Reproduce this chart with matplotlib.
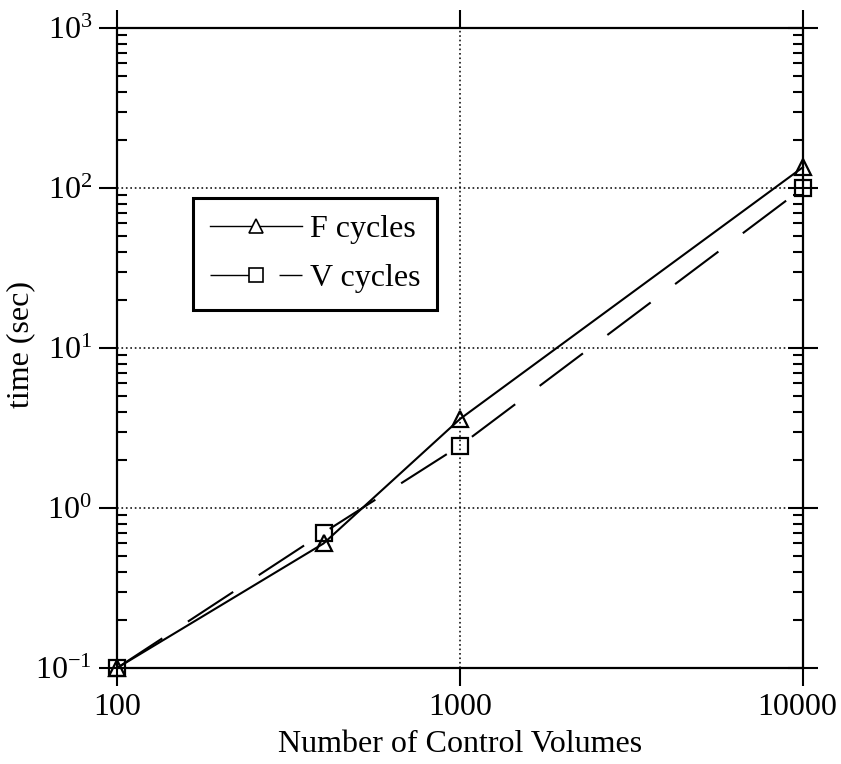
import matplotlib
matplotlib.use("Agg")
import matplotlib.pyplot as plt
from matplotlib.lines import Line2D
from matplotlib.transforms import ScaledTranslation
from matplotlib.ticker import LogLocator, NullFormatter, FixedLocator, FixedFormatter

plt.rcParams['font.family'] = ['Liberation Serif', 'DejaVu Serif']
plt.rcParams['mathtext.fontset'] = 'custom'
plt.rcParams['mathtext.rm'] = 'Liberation Serif'
plt.rcParams['mathtext.it'] = 'Liberation Serif:italic'
plt.rcParams['lines.scale_dashes'] = False

# Data
control_volumes = [100, 400, 1000, 10000]
f_cycles_time = [0.1, 0.6, 3.6, 135]
v_cycles_time = [0.1, 0.7, 2.45, 100]
x_ticks = [100, 1000, 10000]
x_tick_labels = ["100", "1000", "10000"]
y_ticks = [0.1, 1, 10, 100, 1000]
y_tick_labels = [r"$10^{-1}$", r"$10^{0}$", r"$10^{1}$", r"$10^{2}$", r"$10^{3}$"]

FS = 23
fig = plt.figure(figsize=(8.41, 7.64), dpi=100)
ax = fig.add_axes([117/841, 1-668/764, (803-117)/841, (668-28)/764])

ax.set_xscale('log')
ax.set_yscale('log')
ax.set_xlim(100, 10000)
ax.set_ylim(0.1, 1000)

ax.plot(control_volumes, f_cycles_time, color='black', lw=1.5, linestyle='-',
        marker='^', ms=11, mfc='none', mec='black', mew=1.6, zorder=3, clip_on=False)
ax.plot(control_volumes, v_cycles_time, color='black', lw=1.5, linestyle=(0, (39, 22)),
        marker='s', ms=11.5, mfc='none', mec='black', mew=1.6, zorder=3, clip_on=False)

# grid
for xv in [1000]:
    ax.axvline(xv, color='black', lw=1.1, linestyle=(0, (1.2, 2)), zorder=1)
for yv in [1, 10, 100]:
    ax.axhline(yv, color='black', lw=1.1, linestyle=(0, (1.2, 2)), zorder=1)

# right major ticks inout via twin axis
ax2 = ax.twinx()
ax2.set_yscale('log')
ax2.set_ylim(0.1, 1000)
ax2.yaxis.set_major_locator(FixedLocator(y_ticks))
ax2.yaxis.set_minor_locator(FixedLocator([]))
ax2.tick_params(axis='y', which='major', direction='inout', length=22, width=1.5, labelright=False)
for s in ax2.spines.values():
    s.set_visible(False)

# ticks
ax.xaxis.set_major_locator(FixedLocator(x_ticks))
ax.xaxis.set_major_formatter(FixedFormatter(x_tick_labels))
ax.xaxis.set_minor_locator(FixedLocator([]))
ax.yaxis.set_major_locator(FixedLocator(y_ticks))
ax.yaxis.set_major_formatter(FixedFormatter(y_tick_labels))
ax.yaxis.set_minor_locator(LogLocator(base=10, subs=range(2, 10), numticks=20))
ax.yaxis.set_minor_formatter(NullFormatter())

ax.tick_params(axis='x', which='major', direction='out', length=13, width=1.5,
               top=True, labeltop=False, labelsize=FS, pad=5)
ax.tick_params(axis='y', which='major', direction='out', length=13, width=1.5,
               left=True, right=False, labelsize=FS, pad=5)
ax.tick_params(axis='y', which='minor', direction='in', length=7, width=1.5,
               left=True, right=True)

for s in ax.spines.values():
    s.set_linewidth(1.6)

fig.canvas.draw()
xlabels = ax.get_xticklabels()
xlabels[-1].set_transform(xlabels[-1].get_transform() +
                          ScaledTranslation(-6/100, 0, fig.dpi_scale_trans))

ax.set_xlabel("Number of Control Volumes", fontsize=FS, labelpad=6)
ax.set_ylabel("time (sec)", fontsize=FS)
ax.yaxis.set_label_coords(-0.1195, 0.505)

# legend
h_f = Line2D([], [], color='black', lw=1.0, linestyle='-', marker='^', ms=9.5,
             mfc='white', mec='black', mew=1.2)
h_v = Line2D([], [], color='black', lw=1.0, linestyle=(0, (32.4, 17.3, 16.6, 60)),
             marker='s', ms=9.5, mfc='white', mec='black', mew=1.2)
leg = ax.legend([h_f, h_v], ["F cycles", "V cycles"], loc='upper left',
                bbox_to_anchor=(0.1108, 0.734), borderaxespad=0, fontsize=FS,
                handlelength=2.9, handletextpad=0.25, labelspacing=0.62,
                borderpad=0.52, fancybox=False, frameon=True, numpoints=1)
leg.get_frame().set_edgecolor('black')
leg.get_frame().set_linewidth(2.2)
leg.get_frame().set_alpha(1)

fig.savefig("out.png", dpi=100)
